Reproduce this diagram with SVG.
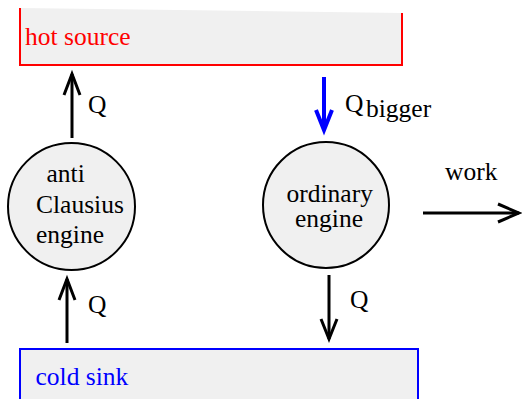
<svg xmlns="http://www.w3.org/2000/svg" width="522" height="399" viewBox="0 0 522 399">
<style>
text,tspan{font-family:"Liberation Serif","Times New Roman",serif;font-size:25.5px;fill:#000}
.node{fill:#f0f0f0;stroke:#000;stroke-width:2}
.arr{fill:none;stroke:#000;stroke-width:3;stroke-linecap:butt;stroke-linejoin:miter}
.blue{stroke:#0000ff;stroke-width:4}
</style>
<g id="hot-source">
<polygon points="20,8 402,13 402,65 20,65" fill="#f0f0f0"/>
<polyline points="20,8 20,65 402,65 402,13" fill="none" stroke="#ff0000" stroke-width="2"/>
<text x="25" y="45" style="fill:#ff0000">hot source</text>
</g>
<g id="cold-sink">
<rect x="20" y="349" width="398" height="60" fill="#f0f0f0" stroke="#0000ff" stroke-width="2"/>
<text x="35.5" y="385" style="fill:#0000ff">cold sink</text>
</g>
<g id="anti-clausius-engine">
<circle cx="71.5" cy="206.5" r="63.5" class="node"/>
<text x="46.5" y="181.5">anti</text>
<text x="36" y="213">Clausius</text>
<text x="36" y="243">engine</text>
</g>
<g id="ordinary-engine">
<circle cx="326" cy="205" r="63" class="node"/>
<text x="286.5" y="202">ordinary</text>
<text x="295" y="227">engine</text>
</g>
<g id="connectors">
<line x1="72" y1="138" x2="72" y2="74" class="arr"/>
<polyline points="64,95 72,74 80,95" class="arr"/>
<text x="88" y="113">Q</text>
<line x1="324" y1="77" x2="324" y2="129" class="arr blue"/>
<polyline points="316,110 324,130 332,110" class="arr blue"/>
<text x="345" y="112">Q</text>
<text x="366" y="117">bigger</text>
<line x1="67" y1="343" x2="67" y2="279" class="arr"/>
<polyline points="59,300 67,279 75,300" class="arr"/>
<text x="88" y="313">Q</text>
<line x1="329" y1="275" x2="329" y2="339" class="arr"/>
<polyline points="321,319 329,339 337,319" class="arr"/>
<text x="350" y="308">Q</text>
<line x1="423" y1="213" x2="519" y2="213" class="arr"/>
<polyline points="498,204 519,213 498,222" class="arr"/>
<text x="445" y="180">work</text>
</g>
</svg>
